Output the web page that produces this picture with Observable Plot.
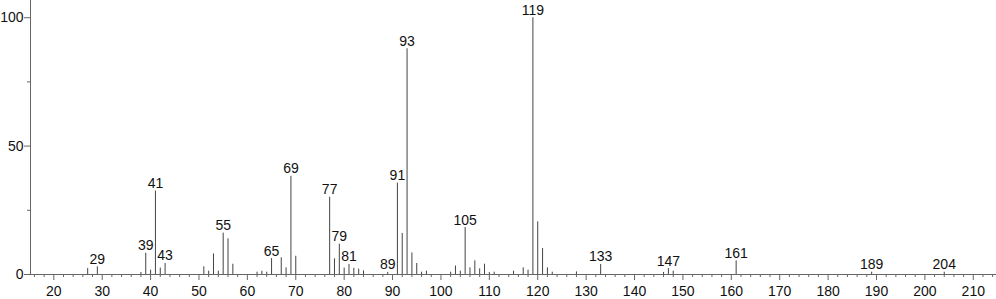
<!DOCTYPE html>
<html>
<head>
<meta charset="utf-8">
<script src="https://cdn.jsdelivr.net/npm/d3@7"></script>
<script src="https://cdn.jsdelivr.net/npm/@observablehq/plot@0.6"></script>
<style>
  html, body { margin: 0; padding: 0; background: #fff; }
  #chart svg { display: block; }
</style>
</head>
<body>
<div id="chart"></div>
<script>
// m/z values of the peaks
const mz = [27,29,38,39,40,41,42,43,51,52,53,54,55,56,57,62,63,64,65,67,68,69,70,77,78,79,80,81,82,83,84,89,91,92,93,94,95,96,97,102,103,104,105,106,107,108,109,110,111,115,117,118,119,120,121,122,123,128,133,146,147,148,161,189,204];
// relative intensities (%)
const intensity = [2.3,3.0,0.8,8.3,1.7,32.5,2.5,4.3,3.0,1.3,8.0,1.3,16.1,13.9,4.0,0.9,1.3,0.9,6.2,6.5,2.6,38.2,7.1,30.1,6.1,11.8,2.5,3.9,2.4,2.1,1.4,0.8,35.6,16.0,87.9,8.4,4.3,0.9,1.3,0.9,3.3,1.3,18.3,2.6,5.3,2.2,4.0,0.8,0.9,1.3,2.6,1.7,100,20.5,10.1,2.6,0.9,1.0,3.9,0.8,2.3,1.3,5.3,0.9,0.9];
// peaks that carry a label
const labeled = [29,39,41,43,55,65,69,77,79,81,89,91,93,105,119,133,147,161,189,204];
// axis ticks
const xMajorTicks = [20,30,40,50,60,70,80,90,100,110,120,130,140,150,160,170,180,190,200,210];
const xMinorTicks = d3.range(16, 215, 2).filter(v => v % 10 !== 0);
const yMajorTicks = [0, 50, 100];
const yMinorTicks = [25, 75];

const peaks = mz.map((m, i) => ({mz: m, int: intensity[i]}));
const labelRows = peaks.filter(d => labeled.includes(d.mz));

const xDomain = [15.185, 214.8];
const yDomain = [0, 106.7];
const axisColor = "#666";

const chart = Plot.plot({
  width: 996,
  height: 299,
  marginLeft: 30,
  marginRight: 0,
  marginTop: 0,
  marginBottom: 25,
  style: {fontFamily: "'Liberation Sans', Arial, sans-serif", fontSize: "14px", color: "#111", background: "#fff"},
  x: {domain: xDomain, label: null},
  y: {domain: yDomain, label: null},
  marks: [
    Plot.ruleY([0], {stroke: axisColor}),
    Plot.ruleX([xDomain[0]], {stroke: axisColor}),
    Plot.axisX(xMajorTicks, {tickSize: 6, tickPadding: 6, stroke: axisColor, fill: "#111", fontSize: 14, label: null}),
    Plot.axisX(xMinorTicks, {tickSize: 3, text: null, stroke: axisColor, label: null}),
    Plot.axisY(yMajorTicks, {tickSize: 6, tickPadding: 1, stroke: axisColor, fill: "#111", fontSize: 14, label: null}),
    Plot.axisY(yMinorTicks, {tickSize: 3, text: null, stroke: axisColor, label: null}),
    Plot.ruleX(peaks, {x: "mz", y1: 0, y2: "int", stroke: "#444", strokeWidth: 1}),
    Plot.text(labelRows, {x: "mz", y: "int", text: d => String(d.mz), lineAnchor: "bottom", dy: -3, fill: "#111", fontSize: 14})
  ]
});
document.getElementById("chart").append(chart);
</script>
</body>
</html>
